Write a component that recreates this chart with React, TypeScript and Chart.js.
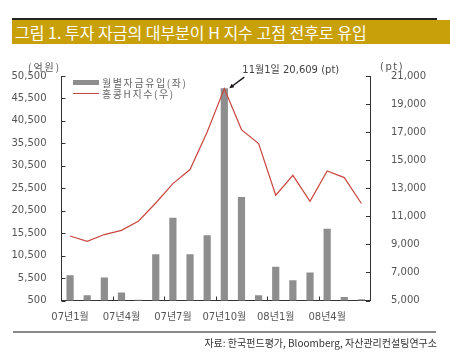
import React, { useEffect, useRef } from "react";
import { Chart, registerables } from "chart.js";

Chart.register(...registerables);

const categories = [
  "07년1월", "07년2월", "07년3월", "07년4월", "07년5월", "07년6월",
  "07년7월", "07년8월", "07년9월", "07년10월", "07년11월", "07년12월",
  "08년1월", "08년2월", "08년3월", "08년4월", "08년5월", "08년6월",
];
const fundInflow = [6140, 1680, 5630, 2280, 640, 10820, 18910, 10820, 15060, 47760, 23530, 1680, 7990, 5030, 6740, 16460, 1300, 790];
const hIndex = [9600, 9220, 9700, 10000, 10670, 11950, 13330, 14330, 17010, 20100, 17180, 16180, 12500, 13920, 12070, 14230, 13760, 11910];
const leftTicks = { min: 500, max: 50500, step: 5000 };
const rightTicks = { min: 5000, max: 21000, step: 2000 };
const peakIndex = 9;
const peakLabel = "11월1일 20,609 (pt)";
const titleText = "그림 1. 투자 자금의 대부분이 H 지수 고점 전후로 유입";
const sourceText = "자료: 한국펀드평가, Bloomberg, 자산관리컨설팅연구소";
const legendBar = "월별자금유입(좌)";
const legendLine = "홍콩H지수(우)";

const BAR_COLOR = "#8e8e8e";
const LINE_COLOR = "#c9473f";
const AXIS_COLOR = "#333333";
const TEXT_COLOR = "#555555";
const FONT = '"DejaVu Sans", "Noto Sans CJK KR", sans-serif';
const KFONT = '"Noto Sans CJK KR", "DejaVu Sans", sans-serif';

const fmt = (v: number) => Math.round(v).toLocaleString("en-US");

const decorPlugin = {
  id: "decor",
  afterDraw(chart: any) {
    const ctx = chart.ctx;
    const area = chart.chartArea;
    const yL = chart.scales.yL;
    const yR = chart.scales.yR;
    const x = chart.scales.x;
    ctx.save();
    ctx.strokeStyle = AXIS_COLOR;
    ctx.lineWidth = 1;
    ctx.beginPath();
    yL.ticks.forEach((t: any) => {
      const y = Math.round(yL.getPixelForValue(t.value)) + 0.5;
      ctx.moveTo(area.left, y);
      ctx.lineTo(area.left + 4, y);
    });
    yR.ticks.forEach((t: any) => {
      const y = Math.round(yR.getPixelForValue(t.value)) + 0.5;
      ctx.moveTo(area.right - 4, y);
      ctx.lineTo(area.right, y);
    });
    for (let i = 3; i < categories.length; i += 3) {
      const px = Math.round((x.getPixelForValue(i - 1) + x.getPixelForValue(i)) / 2) + 0.5;
      ctx.moveTo(px, area.bottom);
      ctx.lineTo(px, area.bottom - 4);
    }
    ctx.stroke();

    // annotation at peak
    const meta = chart.getDatasetMeta(1);
    const pt = meta.data[peakIndex];
    if (pt) {
      const px = pt.x;
      const py = pt.y;
      ctx.fillStyle = "#444";
      ctx.font = `10px ${FONT}`;
      ctx.textAlign = "left";
      ctx.textBaseline = "middle";
      ctx.fillText(peakLabel, px + 18, py - 18);
      const x0 = px + 20, y0 = py - 11.5, x1 = px + 5, y1 = py - 0.5;
      ctx.strokeStyle = "#111";
      ctx.lineWidth = 1.3;
      ctx.beginPath();
      ctx.moveTo(x0, y0);
      ctx.lineTo(x1 + 3, y1 - 2.2);
      ctx.stroke();
      const ang = Math.atan2(y1 - y0, x1 - x0);
      const hl = 5;
      ctx.fillStyle = "#111";
      ctx.beginPath();
      ctx.moveTo(x1, y1);
      ctx.lineTo(x1 - hl * Math.cos(ang - 0.45), y1 - hl * Math.sin(ang - 0.45));
      ctx.lineTo(x1 - hl * Math.cos(ang + 0.45), y1 - hl * Math.sin(ang + 0.45));
      ctx.closePath();
      ctx.fill();
    }
    ctx.restore();
  },
};

function ChartCanvas() {
  const ref = useRef<HTMLCanvasElement | null>(null);
  useEffect(() => {
    if (!ref.current) return;
    const chart = new Chart(ref.current, {
      type: "bar",
      data: {
        labels: categories,
        datasets: [
          {
            type: "bar",
            label: legendBar,
            data: fundInflow,
            backgroundColor: BAR_COLOR,
            borderWidth: 0,
            yAxisID: "yL",
            barPercentage: 0.42,
            categoryPercentage: 1,
            order: 2,
          },
          {
            type: "line",
            label: legendLine,
            data: hIndex,
            borderColor: LINE_COLOR,
            borderWidth: 1.2,
            pointRadius: 0,
            tension: 0,
            fill: false,
            yAxisID: "yR",
            order: 1,
          } as any,
        ],
      },
      options: {
        responsive: false,
        maintainAspectRatio: false,
        animation: false,
        devicePixelRatio: 1,
        layout: { padding: { top: 76, left: 0, right: 0, bottom: 0 } },
        plugins: { legend: { display: false }, tooltip: { enabled: false } },
        scales: {
          x: {
            type: "category",
            offset: true,
            grid: { display: false },
            border: { display: true, color: AXIS_COLOR, width: 1 },
            ticks: {
              autoSkip: false,
              maxRotation: 0,
              minRotation: 0,
              padding: 3,
              color: TEXT_COLOR,
              font: { family: FONT, size: 10 },
              callback: (_v: any, i: number) => (i % 3 === 0 ? categories[i] : ""),
            },
            afterFit: (s: any) => { s.height = 62.5; },
          },
          yL: {
            type: "linear",
            position: "left",
            min: leftTicks.min,
            max: leftTicks.max,
            grid: { display: false },
            border: { display: true, color: AXIS_COLOR, width: 1 },
            ticks: {
              stepSize: leftTicks.step,
              padding: 7,
              color: TEXT_COLOR,
              font: { family: FONT, size: 10 },
              callback: (v: any) => fmt(Number(v)),
            },
            afterFit: (s: any) => { s.width = 61.5; },
          },
          yR: {
            type: "linear",
            position: "right",
            min: rightTicks.min,
            max: rightTicks.max,
            grid: { display: false },
            border: { display: true, color: AXIS_COLOR, width: 1 },
            ticks: {
              stepSize: rightTicks.step,
              padding: 13,
              color: TEXT_COLOR,
              font: { family: FONT, size: 10 },
              callback: (v: any) => fmt(Number(v)),
            },
            afterFit: (s: any) => { s.width = 80; },
          },
        },
      } as any,
      plugins: [decorPlugin],
    });
    return () => chart.destroy();
  }, []);
  return (
    <canvas
      ref={ref}
      width={450}
      height={363}
      style={{ position: "absolute", left: 0, top: 0, width: 450, height: 363 }}
    />
  );
}

export default function App() {
  return (
    <div style={{ position: "fixed", left: 0, top: 0, width: 450, height: 363, background: "#fff", overflow: "hidden" }}>
      <div style={{ position: "absolute", left: 12, top: 18, width: 425, height: 2, background: "#222" }} />
      <div
        style={{
          position: "absolute", left: 12, top: 20, width: 438, height: 24, background: "#c8a00a",
          color: "#fff", fontFamily: KFONT, fontSize: 16, lineHeight: "24px", paddingLeft: 3,
          boxSizing: "border-box", whiteSpace: "nowrap",
        }}
      >
        {titleText}
      </div>
      <ChartCanvas />
      <div style={{ position: "absolute", left: 28, top: 60, fontFamily: KFONT, fontSize: 10, color: TEXT_COLOR, letterSpacing: 2, lineHeight: "14px" }}>(억원)</div>
      <div style={{ position: "absolute", left: 380, top: 60, fontFamily: FONT, fontSize: 10, color: TEXT_COLOR, letterSpacing: 1.5, lineHeight: "14px" }}>(pt)</div>
      <div style={{ position: "absolute", left: 73, top: 80, width: 26, height: 5, background: BAR_COLOR }} />
      <div style={{ position: "absolute", left: 102, top: 76, fontFamily: KFONT, fontSize: 10, color: "#666", letterSpacing: 1.6, lineHeight: "13px", whiteSpace: "nowrap" }}>{legendBar}</div>
      <div style={{ position: "absolute", left: 73, top: 93, width: 26, height: 1, background: LINE_COLOR }} />
      <div style={{ position: "absolute", left: 102, top: 87, fontFamily: KFONT, fontSize: 10, color: "#666", letterSpacing: 1.6, lineHeight: "13px", whiteSpace: "nowrap" }}>{legendLine}</div>
      <div style={{ position: "absolute", left: 13, top: 331, width: 423, height: 2, background: "#8a8a8a" }} />
      <div style={{ position: "absolute", right: 13, top: 336, fontFamily: KFONT, fontSize: 10, color: "#333", lineHeight: "14px", whiteSpace: "nowrap" }}>{sourceText}</div>
    </div>
  );
}
